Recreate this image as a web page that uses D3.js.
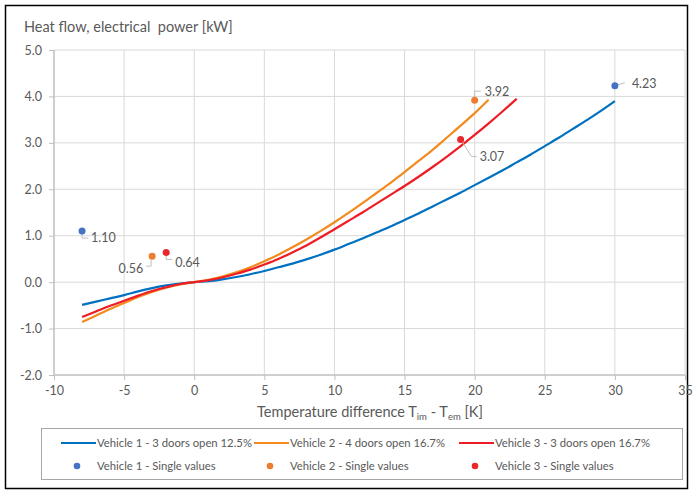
<!DOCTYPE html>
<html><head><meta charset="utf-8">
<script src="https://cdn.jsdelivr.net/npm/d3@7"></script>
<style>
html,body{margin:0;padding:0;background:#fff;}
svg{display:block;font-family:Lato,"Open Sans",sans-serif;}
</style></head>
<body>
<svg id="chart" width="694" height="495"></svg>
<script>
// ---- data ----
const xTicks = [-10,-5,0,5,10,15,20,25,30,35];
const yTicks = [-2,-1,0,1,2,3,4,5];
const v1X = [-8,-7,-6,-5,-4,-3,-2,-1,0,1,2,3,4,5,6,7,8,9,10,11,12,13,14,15,16,17,18,19,20,21,22,23,24,25,26,27,28,29,30];
const v1Y = [-0.49,-0.42,-0.35,-0.28,-0.20,-0.13,-0.07,-0.03,0,0.02,0.06,0.11,0.17,0.24,0.32,0.40,0.49,0.59,0.70,0.82,0.94,1.07,1.20,1.34,1.48,1.63,1.78,1.93,2.09,2.25,2.41,2.58,2.75,2.93,3.11,3.30,3.49,3.69,3.90];
const v2X = [-8,-7,-6,-5,-4,-3,-2,-1,0,1,2,3,4,5,6,7,8,9,10,11,12,13,14,15,16,17,18,19,20,21];
const v2Y = [-0.86,-0.72,-0.58,-0.45,-0.32,-0.21,-0.12,-0.05,0,0.05,0.12,0.21,0.32,0.45,0.59,0.75,0.92,1.10,1.29,1.49,1.70,1.92,2.14,2.37,2.61,2.85,3.11,3.37,3.64,3.93];
const v3X = [-8,-7,-6,-5,-4,-3,-2,-1,0,1,2,3,4,5,6,7,8,9,10,11,12,13,14,15,16,17,18,19,20,21,22,23];
const v3Y = [-0.75,-0.63,-0.51,-0.40,-0.29,-0.19,-0.11,-0.04,0,0.04,0.10,0.18,0.27,0.38,0.50,0.64,0.79,0.96,1.14,1.32,1.50,1.69,1.88,2.07,2.27,2.48,2.70,2.93,3.17,3.42,3.68,3.95];
const s1X = [-8,30], s1Y = [1.10,4.23];
const s2X = [-3,20], s2Y = [0.56,3.92];
const s3X = [-2,19], s3Y = [0.64,3.07];
const lineNames = ["Vehicle 1 - 3 doors open 12.5%","Vehicle 2 - 4 doors open 16.7%","Vehicle 3 - 3 doors open 16.7%"];
const dotNames = ["Vehicle 1 - Single values","Vehicle 2 - Single values","Vehicle 3 - Single values"];
const lineColors = ["#0070C0","#F28A1E","#EE1C25"];
const dotColors = ["#4472C4","#ED7D31","#E8282B"];

// ---- chart ----
const svg = d3.select("#chart");
const txt = "#595959";
const hy = s => s.replace(/\u2212/g,"-");
svg.append("rect").attr("x",5.5).attr("y",5.5).attr("width",682).attr("height",483)
  .attr("fill","#fff").attr("stroke","#000").attr("stroke-width",1.5);

const x = d3.scaleLinear().domain([-10,35]).range([54,685]);
const y = d3.scaleLinear().domain([-2,5]).range([375,50]);

// gridlines
svg.append("g").selectAll("line").data(xTicks.slice(1)).join("line")
  .attr("x1",d=>x(d)).attr("x2",d=>x(d)).attr("y1",y(5)).attr("y2",y(-2))
  .attr("stroke","#d9d9d9").attr("stroke-width",1);
svg.append("g").selectAll("line").data(yTicks.slice(1)).join("line")
  .attr("x1",x(-10)).attr("x2",x(35)).attr("y1",d=>y(d)).attr("y2",d=>y(d))
  .attr("stroke","#d9d9d9").attr("stroke-width",1);

// axes
const yAxis = svg.append("g").attr("transform",`translate(${x(-10)},0)`)
  .call(d3.axisLeft(y).tickValues(yTicks).tickFormat(d=>hy(d3.format(".1f")(d))).tickSize(5).tickPadding(7));
const xAxis = svg.append("g").attr("transform",`translate(0,${y(-2)})`)
  .call(d3.axisBottom(x).tickValues(xTicks).tickFormat(d=>hy(d3.format("d")(d))).tickSize(5).tickPadding(6));
[yAxis,xAxis].forEach(a=>{
  a.select(".domain").attr("stroke","#bfbfbf").attr("stroke-width",1.5);
  a.selectAll(".tick line").attr("stroke","#bfbfbf");
  a.selectAll(".tick text").attr("fill",txt).style("font-size","12.5px").style("font-family","Lato, sans-serif");
});
xAxis.select(".domain").attr("d",`M${x(-10)},0H${x(35)}`);
yAxis.select(".domain").attr("d",`M0,${y(-2)}V${y(5)}`);

// titles
svg.append("text").attr("x",24).attr("y",32).attr("fill",txt).style("font-size","14.5px")
  .attr("xml:space","preserve").text("Heat flow, electrical  power [kW]");
const xt = svg.append("text").attr("x",370).attr("y",417).attr("text-anchor","middle")
  .attr("fill",txt).style("font-size","14.5px");
xt.append("tspan").text("Temperature difference T");
xt.append("tspan").text("im").attr("dy",3).style("font-size","9.5px");
xt.append("tspan").text(" - T").attr("dy",-3);
xt.append("tspan").text("em").attr("dy",3).style("font-size","9.5px");
xt.append("tspan").text(" [K]").attr("dy",-3);

// lines
const line = d3.line().x(d=>x(d[0])).y(d=>y(d[1])).curve(d3.curveMonotoneX);
const series = [[v1X,v1Y],[v2X,v2Y],[v3X,v3Y]];
series.forEach((s,i)=>{
  svg.append("path").datum(s[0].map((v,j)=>[v,s[1][j]]))
    .attr("d",line).attr("fill","none").attr("stroke",lineColors[i]).attr("stroke-width",2.2);
});

// leader lines + labels
const leaders = [
  {s:0,i:0, pts:[[0,3],[0,7],[6,7]], lx:9, ly:7, anchor:"start"},
  {s:0,i:1, pts:[[3,-1],[10,-3]], lx:17, ly:-2, anchor:"start"},
  {s:1,i:0, pts:[[-1,4],[-1,10],[-6,10]], lx:-9, ly:12, anchor:"end"},
  {s:2,i:0, pts:[[0,3],[0,7],[6,7]], lx:9, ly:10, anchor:"start"},
  {s:1,i:1, pts:[[0,-3],[0,-9],[6,-9]], lx:10, ly:-9, anchor:"start"},
  {s:2,i:1, pts:[[2,3],[11,17],[16,17]], lx:19, ly:17, anchor:"start"}
];
const singles = [[s1X,s1Y],[s2X,s2Y],[s3X,s3Y]];
leaders.forEach(L=>{
  const px = x(singles[L.s][0][L.i]), py = y(singles[L.s][1][L.i]);
  svg.append("polyline").attr("points",L.pts.map(p=>[px+p[0],py+p[1]].join(",")).join(" "))
    .attr("fill","none").attr("stroke","#bfbfbf").attr("stroke-width",1);
  svg.append("text").attr("x",px+L.lx).attr("y",py+L.ly).attr("dy","0.35em")
    .attr("text-anchor",L.anchor).attr("fill",txt).style("font-size","12.5px")
    .text(d3.format(".2f")(singles[L.s][1][L.i]));
});
// dots
singles.forEach((s,i)=>{
  svg.append("g").selectAll("circle").data(s[0].map((v,j)=>[v,s[1][j]])).join("circle")
    .attr("cx",d=>x(d[0])).attr("cy",d=>y(d[1])).attr("r",3.5).attr("fill",dotColors[i]);
});

// legend
svg.append("rect").attr("x",41.5).attr("y",428.5).attr("width",641).attr("height",51)
  .attr("fill","none").attr("stroke","#a6a6a6").attr("stroke-width",1);
const colX = [61,254,459];
lineNames.forEach((n,i)=>{
  svg.append("line").attr("x1",colX[i]).attr("x2",colX[i]+35).attr("y1",443).attr("y2",443)
    .attr("stroke",lineColors[i]).attr("stroke-width",2);
  svg.append("text").attr("x",colX[i]+36).attr("y",443).attr("dy","0.35em").attr("fill",txt)
    .style("font-size","11.3px").text(n);
});
dotNames.forEach((n,i)=>{
  svg.append("circle").attr("cx",colX[i]+16).attr("cy",466).attr("r",3.3).attr("fill",dotColors[i]);
  svg.append("text").attr("x",colX[i]+36).attr("y",466).attr("dy","0.35em").attr("fill",txt)
    .style("font-size","11.3px").text(n);
});
</script>
</body></html>
